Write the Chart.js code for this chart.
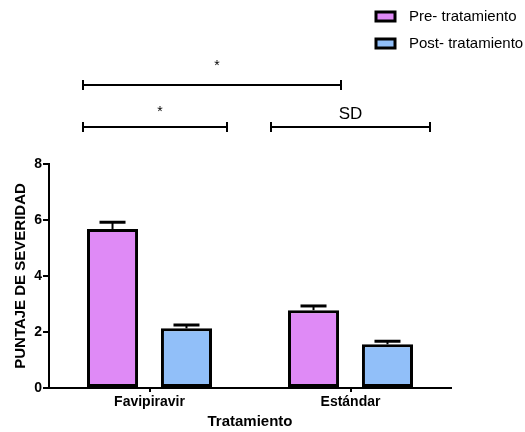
<!DOCTYPE html>
<html>
<head>
<meta charset="utf-8">
<script src="https://cdn.jsdelivr.net/npm/chart.js@4.4.1/dist/chart.umd.min.js"></script>
<style>
html,body{margin:0;padding:0;background:#fff;}
#wrap{width:525px;height:432px;position:relative;}
</style>
</head>
<body>
<div id="wrap"><canvas id="c" width="525" height="432"></canvas></div>
<script>
// ---- data ----
const categories = ['Favipiravir', 'Estándar'];
const seriesNames = ['Pre- tratamiento', 'Post- tratamiento'];
const preValues = [5.68, 2.78];
const postValues = [2.13, 1.56];
const preErrors = [0.24, 0.15];
const postErrors = [0.12, 0.11];
const yTicks = [0, 2, 4, 6, 8];
// significance annotations: category-axis span, y level (data units), label
const bracketFrom = [-0.33, -0.33, 0.604];
const bracketTo = [0.953, 0.386, 1.395];
const bracketLevel = [10.82, 9.32, 9.32];
const bracketLabels = ['*', '*', 'SD'];

const FONT = '"Liberation Sans", Arial, sans-serif';
const colors = ['#DF8AF6', '#91BFF9'];

const errorBars = {
  id: 'errorBars',
  afterDatasetsDraw(chart) {
    const ctx = chart.ctx;
    const y = chart.scales.y;
    const errs = [preErrors, postErrors];
    chart.data.datasets.forEach((ds, di) => {
      const meta = chart.getDatasetMeta(di);
      meta.data.forEach((bar, i) => {
        const top = y.getPixelForValue(ds.data[i] + errs[di][i]);
        ctx.save();
        ctx.strokeStyle = '#000';
        ctx.lineWidth = 2;
        ctx.beginPath();
        ctx.moveTo(bar.x, bar.y);
        ctx.lineTo(bar.x, top);
        ctx.stroke();
        ctx.lineWidth = 3;
        ctx.beginPath();
        ctx.moveTo(bar.x - 13, top);
        ctx.lineTo(bar.x + 13, top);
        ctx.stroke();
        ctx.restore();
      });
    });
  }
};

const brackets = {
  id: 'brackets',
  afterDraw(chart) {
    const ctx = chart.ctx;
    const x = chart.scales.x, y = chart.scales.y;
    ctx.save();
    ctx.strokeStyle = '#000';
    ctx.fillStyle = '#000';
    for (let i = 0; i < bracketLabels.length; i++) {
      const x1 = Math.round(x.getPixelForValue(bracketFrom[i]));
      const x2 = Math.round(x.getPixelForValue(bracketTo[i]));
      const yy = Math.round(y.getPixelForValue(bracketLevel[i]));
      ctx.lineWidth = 2;
      ctx.beginPath();
      ctx.moveTo(x1, yy); ctx.lineTo(x2, yy);
      ctx.stroke();
      ctx.beginPath();
      ctx.moveTo(x1, yy - 5); ctx.lineTo(x1, yy + 5);
      ctx.moveTo(x2, yy - 5); ctx.lineTo(x2, yy + 5);
      ctx.stroke();
      const lab = bracketLabels[i];
      ctx.textAlign = 'center';
      ctx.textBaseline = 'middle';
      if (lab === '*') {
        ctx.font = '14px ' + FONT;
        const gap = i === 0 ? 19 : 15;
        ctx.fillText(lab, (x1 + x2) / 2 + 5, yy - gap);
      } else {
        ctx.font = '17px ' + FONT;
        ctx.fillText(lab, (x1 + x2) / 2, yy - 13);
      }
    }
    ctx.restore();
  }
};

const customLegend = {
  id: 'customLegend',
  afterDraw(chart) {
    const ctx = chart.ctx;
    ctx.save();
    chart.data.datasets.forEach((ds, i) => {
      const by = 12 + i * 27;
      ctx.fillStyle = ds.backgroundColor;
      ctx.fillRect(376, by, 19, 9);
      ctx.strokeStyle = '#000';
      ctx.lineWidth = 3;
      ctx.strokeRect(376, by, 19, 9);
      ctx.fillStyle = '#000';
      ctx.font = '15px ' + FONT;
      ctx.textAlign = 'left';
      ctx.textBaseline = 'middle';
      ctx.fillText(ds.label, 409, by + 4.5);
    });
    ctx.restore();
  }
};

new Chart(document.getElementById('c'), {
  type: 'bar',
  data: {
    labels: categories,
    datasets: [
      { label: seriesNames[0], data: preValues, backgroundColor: colors[0], borderColor: '#000', borderWidth: 3, borderSkipped: false },
      { label: seriesNames[1], data: postValues, backgroundColor: colors[1], borderColor: '#000', borderWidth: 3, borderSkipped: false }
    ]
  },
  options: {
    responsive: false,
    animation: false,
    devicePixelRatio: 1,
    categoryPercentage: 0.736,
    barPercentage: 0.69,
    layout: { padding: { top: 164, right: 74, left: 0, bottom: 0 } },
    plugins: { legend: { display: false }, tooltip: { enabled: false } },
    scales: {
      x: {
        offset: true,
        grid: { offset: false, drawOnChartArea: false, drawTicks: true, tickLength: 4, color: '#000', lineWidth: 2 },
        border: { display: true, color: '#000', width: 2 },
        ticks: { color: '#000', font: { family: FONT, size: 14, weight: 'bold' }, padding: 2 },
        title: { display: true, text: 'Tratamiento', color: '#000', font: { family: FONT, size: 15, weight: 'bold' }, padding: { top: 0, bottom: 1 } },
        afterFit(s) { s.height = 44; }
      },
      y: {
        min: 0, max: 8,
        afterBuildTicks(s) { s.ticks = yTicks.map(v => ({ value: v })); },
        grid: { drawOnChartArea: false, drawTicks: true, tickLength: 6, color: '#000', lineWidth: 2 },
        border: { display: true, color: '#000', width: 2 },
        ticks: { color: '#000', font: { family: FONT, size: 14, weight: 'bold' }, padding: 1 },
        title: { display: true, text: 'PUNTAJE DE SEVERIDAD', color: '#000', font: { family: FONT, size: 15, weight: 'bold' }, padding: { top: 12, bottom: 0 } },
        afterFit(s) { s.width = 49; }
      }
    }
  },
  plugins: [errorBars, brackets, customLegend]
});
</script>
</body>
</html>
